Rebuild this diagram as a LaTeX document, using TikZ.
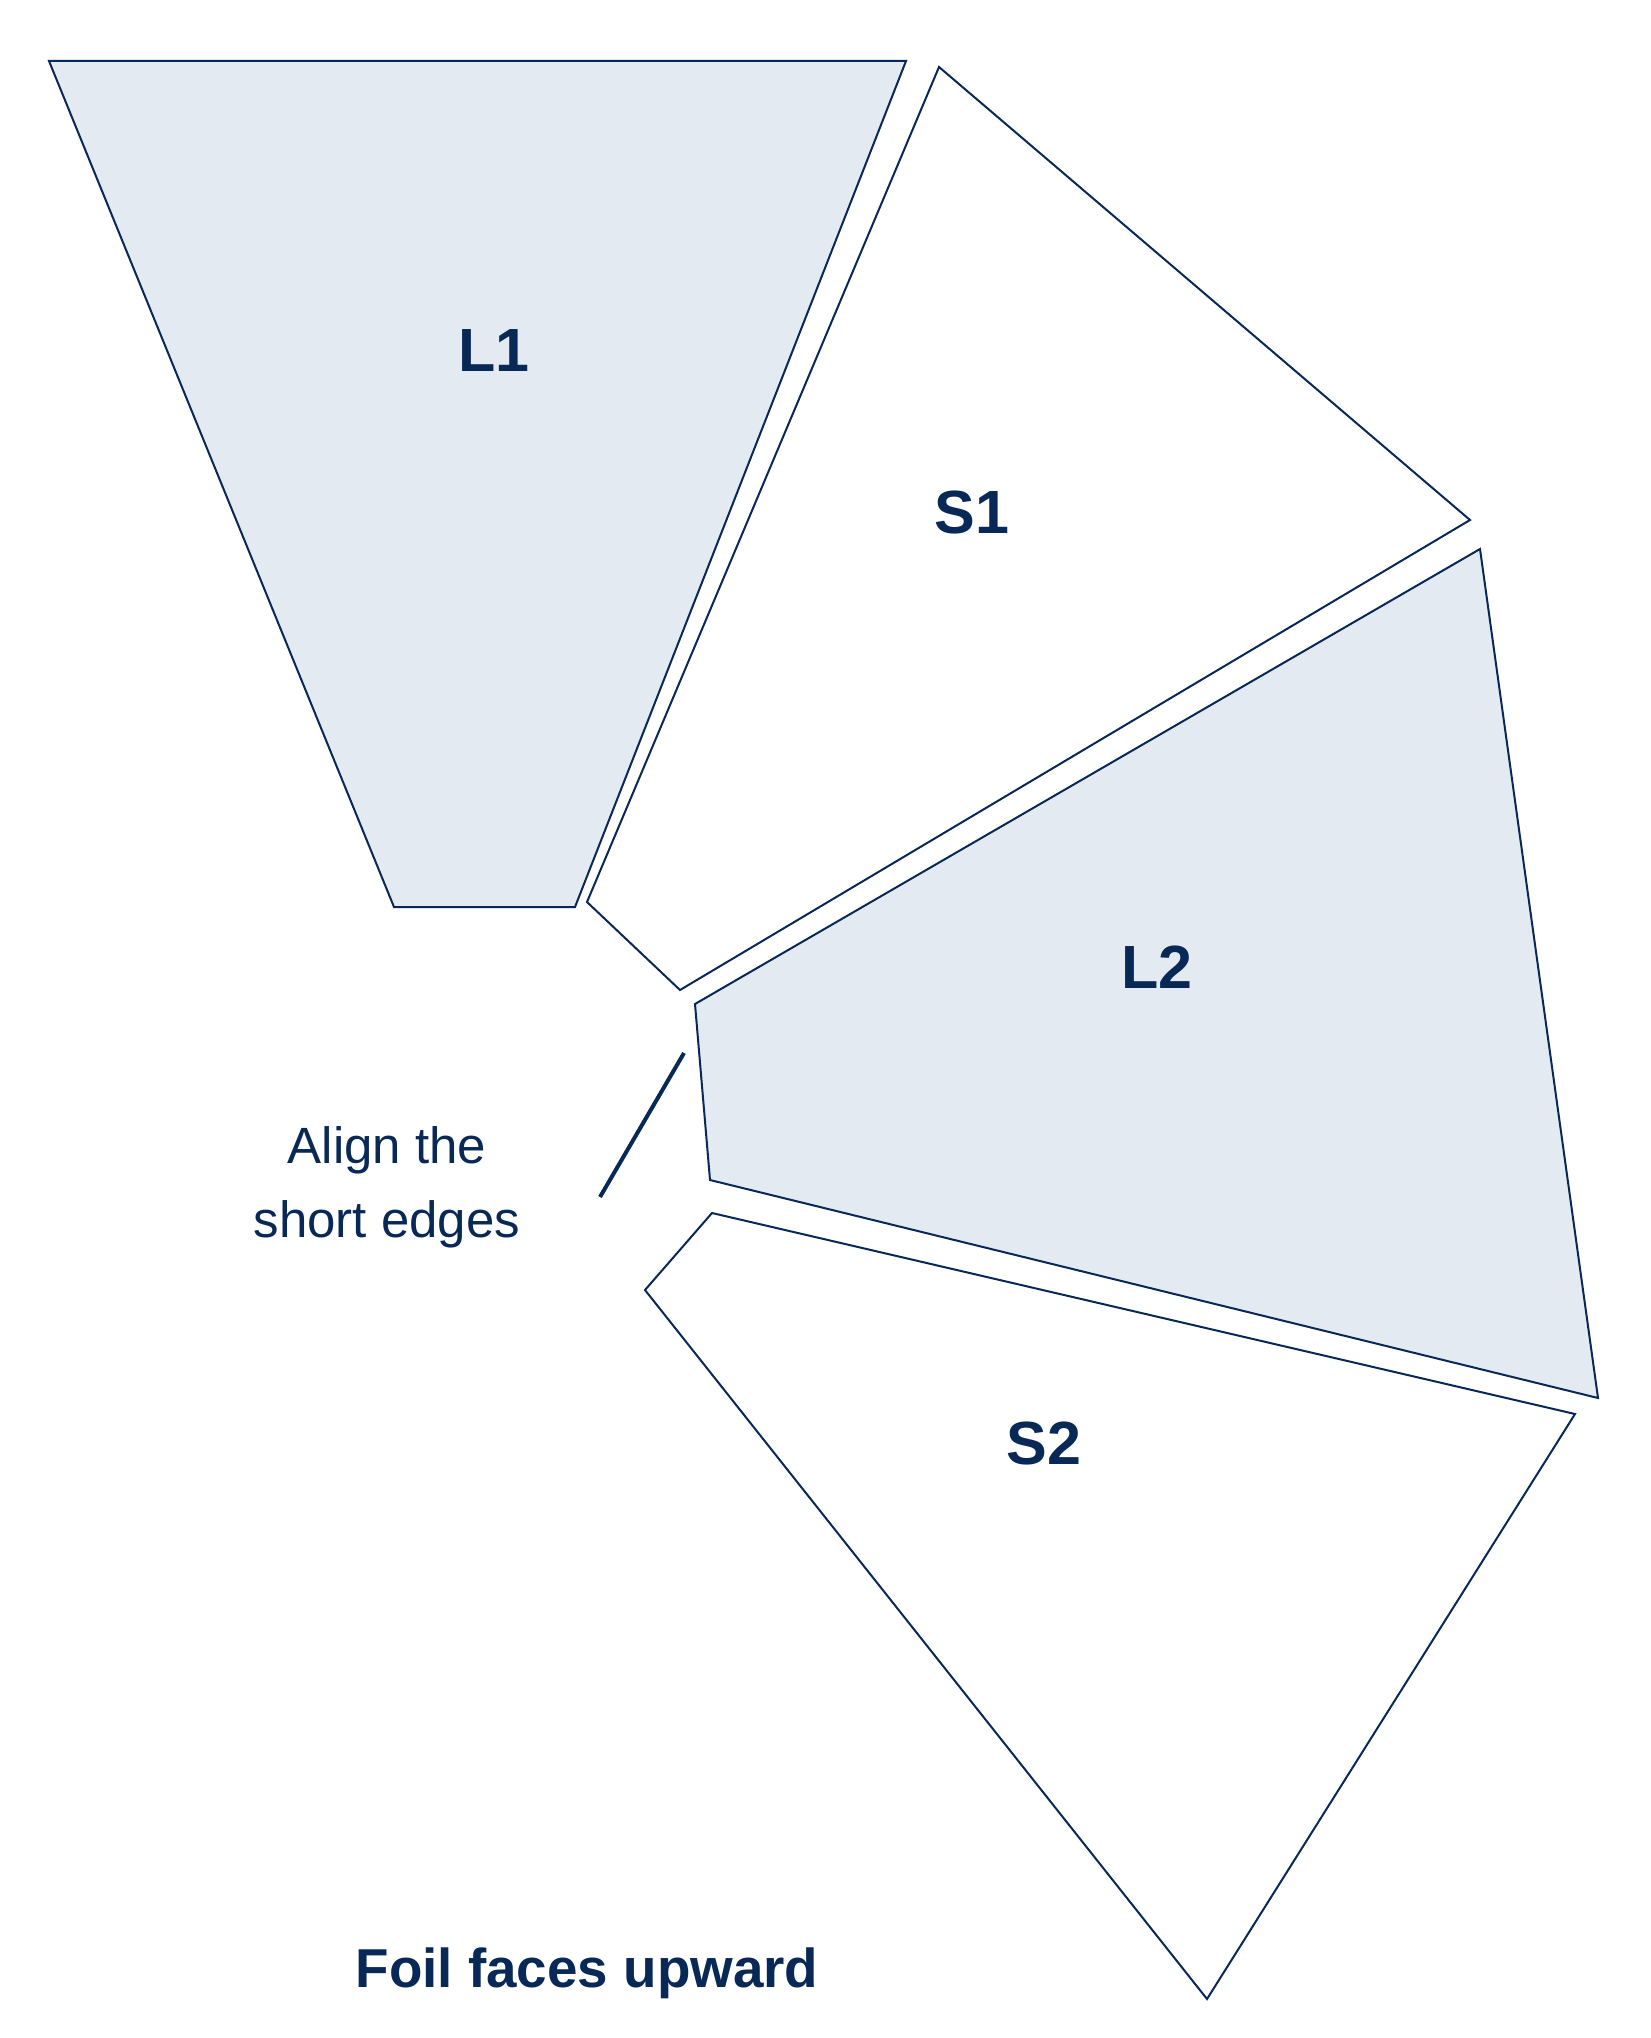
\documentclass[tikz,border=0pt]{standalone}
\usepackage{fontspec}
\setmainfont{Liberation Sans}
\usetikzlibrary{positioning,calc}
\definecolor{navy}{RGB}{8,40,86}
\definecolor{foil}{RGB}{228,234,242}

\begin{document}
\begin{tikzpicture}[x=.5pt, y=-.5pt,
  piece/.style={draw=navy, line width=1pt},
  tag/.style={text=navy, inner sep=0pt, font=\fontsize{30.5}{36}\selectfont\bfseries},
  note/.style={text=navy, inner sep=0pt, align=center, font=\fontsize{25.5}{37}\selectfont}]
  \useasboundingbox (0,0) rectangle (1650,2038);
%
  \filldraw[piece, fill=foil] (49,61) -- (906,61) -- (575,907) -- (394,907) -- cycle;
  \draw[piece] (939,67) -- (1470,520) -- (680,990) -- (587,902) -- cycle;
  \filldraw[piece, fill=foil] (1480,549) -- (1598,1398) -- (710,1180) -- (695,1004) -- cycle;
  \draw[piece] (712,1213) -- (1575,1414) -- (1207,1999) -- (645,1290) -- cycle;
%
  \node[tag] (L1) at (494,351) {L1};
  \node[tag] (S1) at (972,512) {S1};
  \node[tag] (L2) at (1157,967) {L2};
  \node[tag] (S2) at (1044,1443) {S2};
%
  \node[note] (hint) at (387,1187) {Align the\\short edges};
  \coordinate (a1) at (684,1053);
  \coordinate (a2) at (600,1197);
  \draw[navy, line width=2pt] (a1) -- (a2);
%
  \node[tag, anchor=base, font=\fontsize{27.4}{32}\selectfont\bfseries] (foil) at (587,1987) {Foil faces upward};
\end{tikzpicture}
\end{document}
